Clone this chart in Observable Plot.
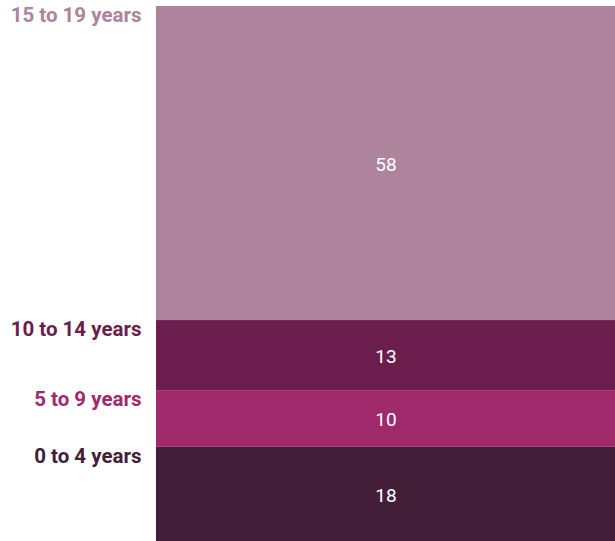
<!DOCTYPE html>
<html>
<head>
<meta charset="utf-8">
<script src="https://cdn.jsdelivr.net/npm/d3@7"></script>
<script src="https://cdn.jsdelivr.net/npm/@observablehq/plot@0.6"></script>
<style>
  html, body { margin: 0; padding: 0; background: #fff; }
  #chart svg { display: block; }
</style>
</head>
<body>
<div id="chart"></div>
<script>
// Age groups, bottom to top
const groups = ["0 to 4 years", "5 to 9 years", "10 to 14 years", "15 to 19 years"];
// Shares (%)
const shares = [17.6, 10.6, 13.1, 58.7];
// Printed value labels
const valueLabels = ["18", "10", "13", "58"];
const colors = ["#421e38", "#a0296c", "#6b1e4d", "#ae849c"];

const data = groups.map((g, i) => ({group: g, share: shares[i], label: valueLabels[i]}));
const font = "Roboto, 'Liberation Sans', sans-serif";

const chart = Plot.plot({
  width: 615,
  height: 541,
  marginLeft: 156,
  marginRight: 0,
  marginTop: 6,
  marginBottom: 0,
  x: {axis: null, padding: 0},
  y: {axis: null, domain: [0, 100]},
  color: {domain: groups, range: colors},
  style: {fontFamily: font},
  marks: [
    Plot.barY(data, Plot.stackY({x: () => "all", y: "share", fill: "group", order: null})),
    Plot.text(data, Plot.stackY({x: () => "all", y: "share", text: "label", order: null,
      fill: "white", fontSize: 19, dy: 1})),
    Plot.text(data, Plot.stackY2({y: "share", text: "group", order: null,
      frameAnchor: "left", textAnchor: "end", lineAnchor: "top", dx: -15, dy: 1,
      fill: "group", fontSize: 20.5, fontWeight: "bold"}))
  ]
});
document.getElementById("chart").appendChild(chart);
</script>
</body>
</html>
